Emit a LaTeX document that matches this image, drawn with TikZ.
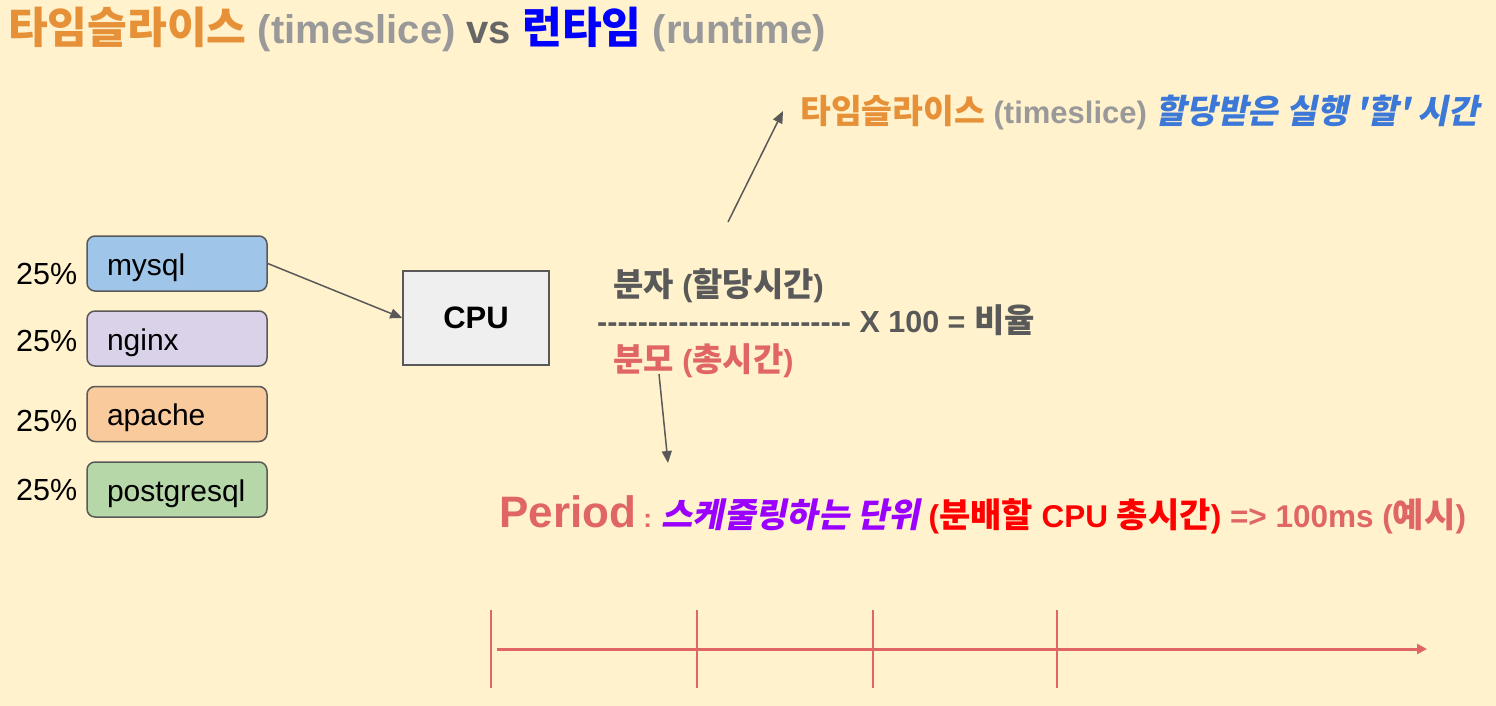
\documentclass[tikz,border=0pt]{standalone}
\usepackage{fontspec}
\setmainfont{Liberation Sans}
\newfontfamily\krf{Noto Sans CJK KR}[Scale=1.08]
\newfontfamily\krif{Noto Sans CJK KR}[Scale=1.08,FakeSlant=0.2]
\usetikzlibrary{arrows.meta}
\definecolor{bg}{HTML}{FFF2CC}
\definecolor{orangeT}{HTML}{E69138}
\definecolor{grayT}{HTML}{999999}
\definecolor{vsC}{HTML}{666666}
\definecolor{blueT}{HTML}{0000FF}
\definecolor{blueI}{HTML}{3C78D8}
\definecolor{edgeC}{HTML}{595959}
\definecolor{darkT}{HTML}{595959}
\definecolor{pinkT}{HTML}{E06666}
\definecolor{purpleT}{HTML}{9900FF}
\definecolor{redT}{HTML}{FF0000}
\definecolor{mysqlC}{HTML}{9FC5E8}
\definecolor{nginxC}{HTML}{D9D2E9}
\definecolor{apacheC}{HTML}{F9CB9C}
\definecolor{pgC}{HTML}{B6D7A8}
\definecolor{cpuC}{HTML}{EFEFEF}
\newcommand\fs[1]{\fontsize{#1}{#1}\selectfont}
\newcommand\dashrow{\foreach \i in {1,...,25}{-\kern0pt}}
\begin{document}
\begin{tikzpicture}[x=1pt,y=-1pt,
  txt/.style={inner sep=0pt, anchor=base west},
  proc/.style={draw=edgeC, line width=1.5pt, rounded corners=8pt,
    minimum width=180pt, minimum height=55pt, text width=140pt,
    text height=25pt, text depth=2pt,
    align=left, inner sep=0pt, font=\fs{30}},
  pct/.style={inner sep=0pt, anchor=base west, font=\fs{30.5}},
  arr/.style={draw=edgeC, line width=1.5pt, -{Triangle[length=12pt,width=10pt]}},
  tl/.style={draw=pinkT, line width=2.5pt}]
\useasboundingbox (0,0) rectangle (1496,706);
\fill[bg] (0,0) rectangle (1496,706);

% title
\node[txt, font=\fs{40}\bfseries] (title) at (8,44)
  {{\krf\bfseries\color{orangeT}타임슬라이스} {\color{grayT}(timeslice)} {\color{vsC}vs} {\krf\bfseries\color{blueT}런타임} {\color{grayT}(runtime)}};

% timeslice label
\node[txt, font=\fs{31}\bfseries] (tslabel) at (800,124)
  {{\krf\bfseries\color{orangeT}타임슬라이스} {\color{grayT}(timeslice)} {\krif\bfseries\color{blueI}할당받은 실행 '할' 시간}};

% process boxes
\node[proc, fill=mysqlC] (mysql) at (177,263.5) {mysql};
\node[proc, fill=nginxC] (nginx) at (177,338.5) {nginx};
\node[proc, fill=apacheC] (apache) at (177,414) {apache};
\node[proc, fill=pgC] (pg) at (177,489.5) {postgresql};

\node[pct] (p1) at (16,284) {25\%};
\node[pct] (p2) at (16,351) {25\%};
\node[pct] (p3) at (16,431) {25\%};
\node[pct] (p4) at (16,500) {25\%};

% CPU
\node[draw=edgeC, fill=cpuC, line width=1.5pt, minimum width=146pt, minimum height=94pt,
  inner sep=0pt, font=\fs{31}\bfseries] (cpu) at (476,318) {CPU};
\draw[arr] (mysql.east) -- (cpu.west);

% formula
\node[txt, font=\fs{30.5}\bfseries, text=darkT] (num) at (613,296)
  {{\krf\bfseries 분자} ({\krf\bfseries 할당시간})};
\node[txt, font=\fs{30.5}\bfseries, text=darkT] (frac) at (597,332)
  {\dashrow{} X 100 = {\krf\bfseries 비율}};
\node[txt, font=\fs{30.5}\bfseries, text=pinkT] (den) at (613,371)
  {{\krf\bfseries 분모} ({\krf\bfseries 총시간})};

% arrows from formula
\coordinate (a1) at (728,222);
\coordinate (a2) at (783,111);
\draw[arr] (a1) -- (a2);
\coordinate (b1) at (659,374);
\coordinate (b2) at (668,463);
\draw[arr] (b1) -- (b2);

% period line
\node[txt, font=\fs{31.5}\bfseries, text=pinkT] (period) at (499,527)
  {{\fs{44}Period}{\fs{26} : }{\krif\bfseries\color{purpleT}스케줄링하는 단위} {\color{redT}({\krf\bfseries 분배할} CPU {\krf\bfseries 총시간})} =\kern0pt> 100ms ({\krf\bfseries 예시})};

% timeline
\coordinate (t0) at (497,649);
\coordinate (tend) at (1427,649);
\draw[draw=pinkT, line width=3pt, -{Triangle[length=10pt,width=10pt]}] (t0) -- (tend);
\foreach \x/\n in {491/k1,697/k2,873/k3,1057/k4}{
  \coordinate (\n a) at (\x,610);
  \coordinate (\n b) at (\x,688);
  \draw[tl] (\n a) -- (\n b);
}
\end{tikzpicture}
\end{document}
